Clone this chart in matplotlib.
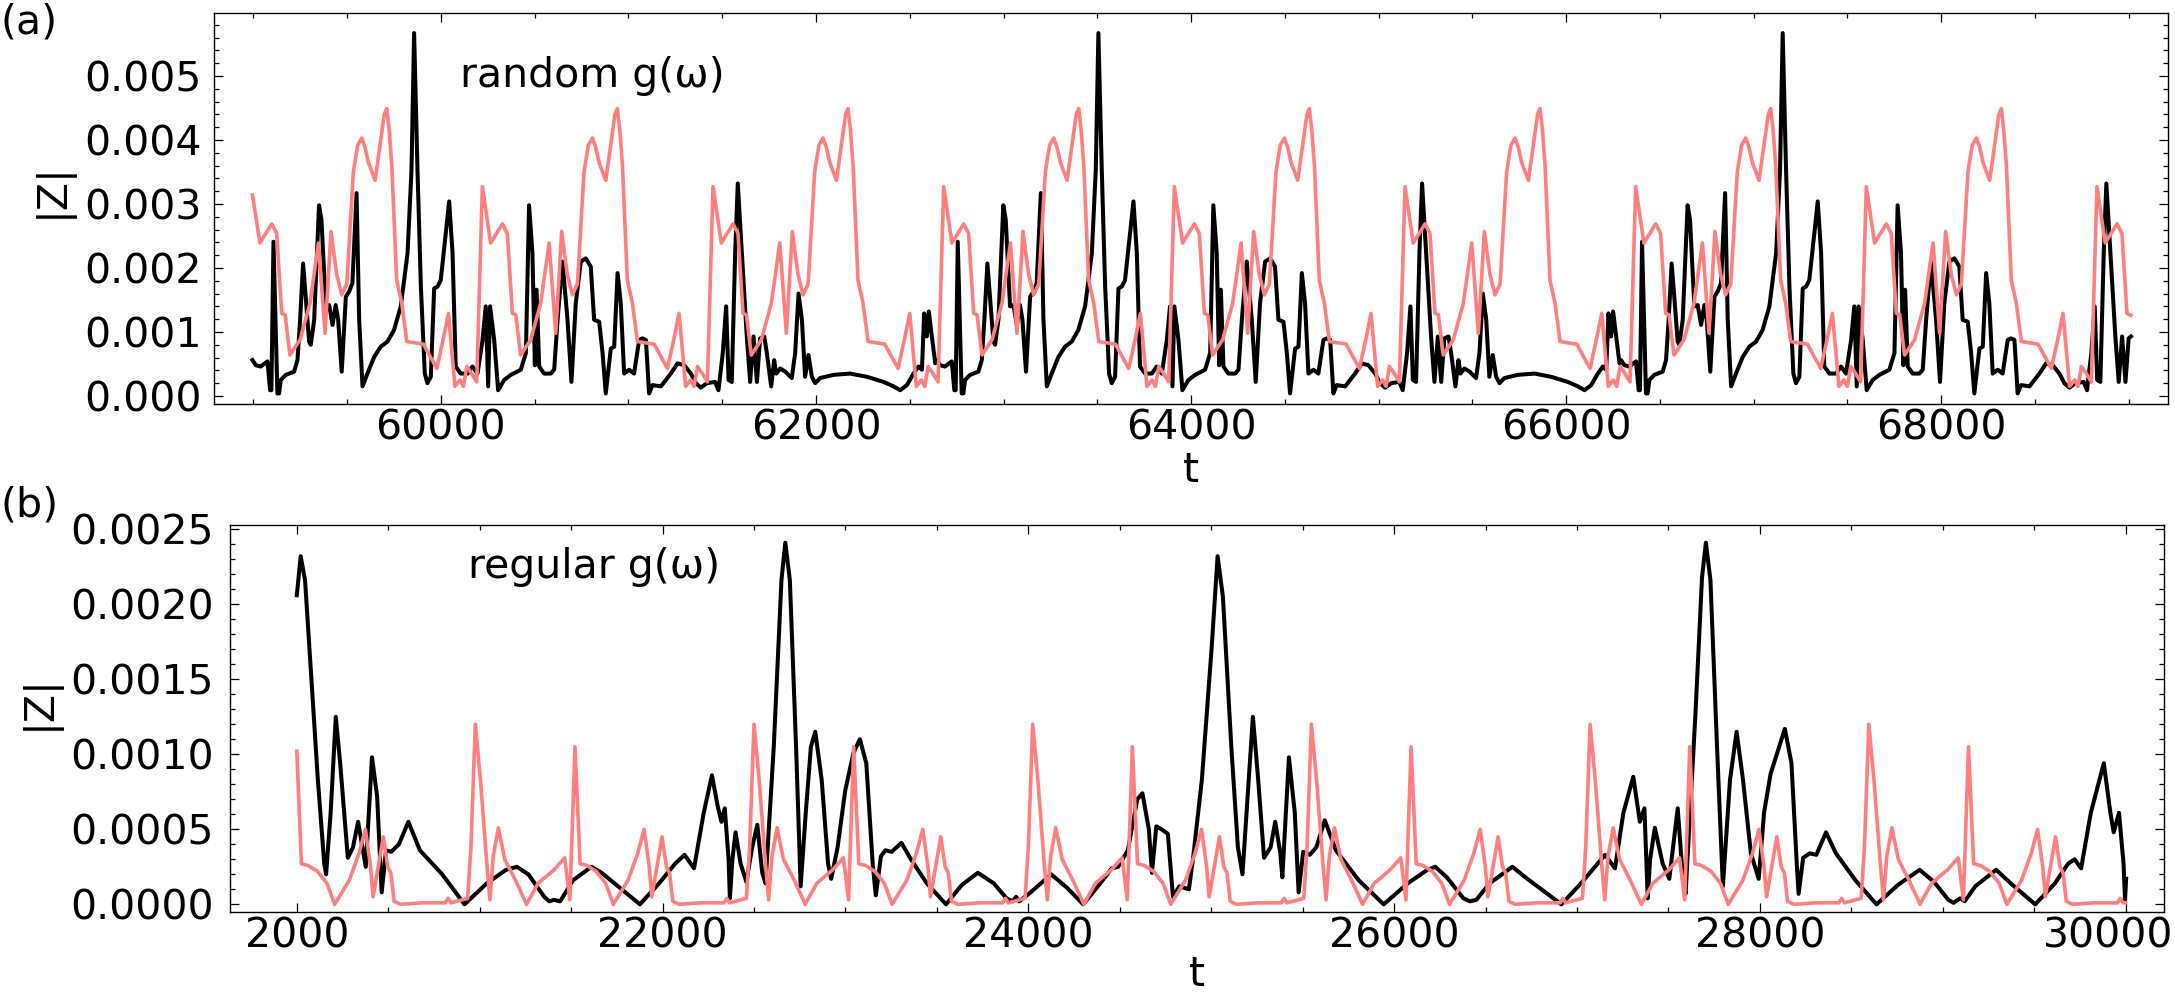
import matplotlib
matplotlib.use("Agg")
import matplotlib.pyplot as plt
import matplotlib.transforms as mtransforms
from matplotlib.ticker import FixedLocator, MultipleLocator, FormatStrFormatter

# all |Z| values below are in units of 1e-3

# ---- panel (a): random g(omega) ----
# black curve (three repeats of the same pattern)
black_a_t1 = [58995, 59013, 59039, 59075, 59089, 59096, 59107, 59128, 59137, 59146,
              59173, 59217, 59235, 59249, 59265, 59279, 59297, 59306, 59324, 59350,
              59363, 59386, 59404, 59422, 59439, 59452, 59471, 59493, 59510, 59528,
              59550, 59564, 59582, 59608, 59644, 59679, 59715, 59750, 59786, 59822,
              59843, 59857, 59875, 59893, 59914, 59928, 59946, 59964, 59982, 59999,
              60026, 60044, 60062, 60079, 60106, 60142, 60168, 60195, 60222, 60239,
              60252, 60262, 60284, 60305, 60337, 60373, 60426, 60453, 60470, 60488,
              60501, 60510, 60524, 60550, 60586, 60604, 60622, 60648, 60675, 60696,
              60719, 60746, 60773, 60799, 60817, 60844, 60862, 60879, 60906, 60924,
              60942, 60959, 60977, 61004, 61030, 61057, 61075, 61093, 61110, 61128,
              61173, 61226, 61262, 61297, 61333, 61359, 61386, 61418, 61462, 61480,
              61503, 61521, 61534, 61551, 61569, 61583, 61605, 61631, 61649, 61667,
              61685, 61702, 61724, 61738, 61761, 61777, 61788, 61809, 61836, 61871,
              61889, 61907, 61925, 61942, 61960, 61978, 61996, 62022, 62094, 62182,
              62271, 62360, 62414, 62449, 62485, 62520, 62547, 62565, 62577, 62591,
              62602, 62618, 62636]
black_a_v1 = [0.56, 0.48, 0.46, 0.54, 0.09, 0.09, 2.41, 0.04, 0.04, 0.25,
              0.33, 0.38, 0.56, 1.19, 2.07, 1.55, 0.85, 0.80, 1.19, 2.98,
              2.75, 1.40, 1.42, 1.11, 1.42, 1.19, 0.38, 1.55, 1.63, 1.76,
              3.17, 1.19, 0.15, 0.35, 0.61, 0.77, 0.85, 1.03, 1.40, 2.23,
              3.53, 5.67, 3.53, 1.71, 0.35, 0.20, 0.30, 1.68, 1.71, 1.81,
              2.54, 3.04, 2.23, 0.46, 0.35, 0.35, 0.46, 0.35, 0.875, 1.40,
              0.15, 1.40, 0.875, 0.09, 0.25, 0.33, 0.41, 0.67, 2.98, 2.23,
              0.48, 1.66, 0.46, 0.35, 0.35, 0.41, 1.19, 2.10, 1.19, 0.22,
              1.45, 2.10, 2.15, 2.02, 1.19, 1.16, 0.67, 0.04, 0.74, 0.77,
              1.92, 1.45, 0.35, 0.41, 0.35, 0.875, 0.90, 0.875, 0.04, 0.17,
              0.15, 0.35, 0.51, 0.48, 0.35, 0.20, 0.13, 0.20, 0.22, 0.09,
              0.67, 1.40, 0.25, 0.22, 2.23, 3.32, 2.23, 0.93, 0.22, 0.93,
              0.22, 0.90, 0.93, 0.67, 0.15, 0.56, 0.35, 0.43, 0.38, 0.28,
              0.67, 1.60, 1.19, 0.30, 0.64, 0.30, 0.20, 0.28, 0.33, 0.35,
              0.30, 0.22, 0.15, 0.09, 0.17, 0.35, 0.46, 0.41, 1.29, 0.93,
              1.32, 0.93, 0.51]
black_a_t2 = [62644, 62662, 62688, 62724, 62738, 62745, 62756, 62777, 62786, 62795,
              62822, 62866, 62884, 62898, 62914, 62928, 62946, 62955, 62973, 62999,
              63012, 63035, 63053, 63071, 63088, 63101, 63120, 63142, 63159, 63177,
              63199, 63213, 63231, 63257, 63293, 63328, 63364, 63399, 63435, 63471,
              63492, 63506, 63524, 63542, 63563, 63577, 63595, 63613, 63631, 63648,
              63675, 63693, 63711, 63728, 63755, 63791, 63817, 63844, 63871, 63888,
              63901, 63911, 63933, 63954, 63986, 64022, 64075, 64102, 64119, 64137,
              64150, 64159, 64173, 64199, 64235, 64253, 64271, 64297, 64324, 64345,
              64368, 64395, 64422, 64448, 64466, 64493, 64511, 64528, 64555, 64573,
              64591, 64608, 64626, 64653, 64679, 64706, 64724, 64742, 64759, 64777,
              64822, 64875, 64911, 64946, 64982, 65008, 65035, 65067, 65111, 65129,
              65152, 65170, 65183, 65200, 65218, 65232, 65254, 65280, 65298, 65316,
              65334, 65351, 65373, 65387, 65410, 65426, 65437, 65458, 65485, 65520,
              65538, 65556, 65574, 65591, 65609, 65627, 65645, 65671, 65743, 65831,
              65920, 66009, 66063, 66098, 66134, 66169, 66196, 66214, 66226, 66240,
              66251, 66267, 66285]
black_a_v2 = [0.56, 0.48, 0.46, 0.54, 0.09, 0.09, 2.41, 0.04, 0.04, 0.25,
              0.33, 0.38, 0.56, 1.19, 2.07, 1.55, 0.85, 0.80, 1.19, 2.98,
              2.75, 1.40, 1.42, 1.11, 1.42, 1.19, 0.38, 1.55, 1.63, 1.76,
              3.17, 1.19, 0.15, 0.35, 0.61, 0.77, 0.85, 1.03, 1.40, 2.23,
              3.53, 5.67, 3.53, 1.71, 0.35, 0.20, 0.30, 1.68, 1.71, 1.81,
              2.54, 3.04, 2.23, 0.46, 0.35, 0.35, 0.46, 0.35, 0.875, 1.40,
              0.15, 1.40, 0.875, 0.09, 0.25, 0.33, 0.41, 0.67, 2.98, 2.23,
              0.48, 1.66, 0.46, 0.35, 0.35, 0.41, 1.19, 2.10, 1.19, 0.22,
              1.45, 2.10, 2.15, 2.02, 1.19, 1.16, 0.67, 0.04, 0.74, 0.77,
              1.92, 1.45, 0.35, 0.41, 0.35, 0.875, 0.90, 0.875, 0.04, 0.17,
              0.15, 0.35, 0.51, 0.48, 0.35, 0.20, 0.13, 0.20, 0.22, 0.09,
              0.67, 1.40, 0.25, 0.22, 2.23, 3.32, 2.23, 0.93, 0.22, 0.93,
              0.22, 0.90, 0.93, 0.67, 0.15, 0.56, 0.35, 0.43, 0.38, 0.28,
              0.67, 1.60, 1.19, 0.30, 0.64, 0.30, 0.20, 0.28, 0.33, 0.35,
              0.30, 0.22, 0.15, 0.09, 0.17, 0.35, 0.46, 0.41, 1.29, 0.93,
              1.32, 0.93, 0.51]
black_a_t3 = [66293, 66311, 66337, 66373, 66387, 66394, 66405, 66426, 66435, 66444,
              66471, 66515, 66533, 66547, 66563, 66577, 66595, 66604, 66622, 66648,
              66661, 66684, 66702, 66720, 66737, 66750, 66769, 66791, 66808, 66826,
              66848, 66862, 66880, 66906, 66942, 66977, 67013, 67048, 67084, 67120,
              67141, 67155, 67173, 67191, 67212, 67226, 67244, 67262, 67280, 67297,
              67324, 67342, 67360, 67377, 67404, 67440, 67466, 67493, 67520, 67537,
              67550, 67560, 67582, 67603, 67635, 67671, 67724, 67751, 67768, 67786,
              67799, 67808, 67822, 67848, 67884, 67902, 67920, 67946, 67973, 67994,
              68017, 68044, 68071, 68097, 68115, 68142, 68160, 68177, 68204, 68222,
              68240, 68257, 68275, 68302, 68328, 68355, 68373, 68391, 68408, 68426,
              68471, 68524, 68560, 68595, 68631, 68657, 68684, 68716, 68760, 68778,
              68801, 68819, 68832, 68849, 68867, 68881, 68903, 68929, 68947, 68965,
              68983, 69000, 69012]
black_a_v3 = [0.56, 0.48, 0.46, 0.54, 0.09, 0.09, 2.41, 0.04, 0.04, 0.25,
              0.33, 0.38, 0.56, 1.19, 2.07, 1.55, 0.85, 0.80, 1.19, 2.98,
              2.75, 1.40, 1.42, 1.11, 1.42, 1.19, 0.38, 1.55, 1.63, 1.76,
              3.17, 1.19, 0.15, 0.35, 0.61, 0.77, 0.85, 1.03, 1.40, 2.23,
              3.53, 5.67, 3.53, 1.71, 0.35, 0.20, 0.30, 1.68, 1.71, 1.81,
              2.54, 3.04, 2.23, 0.46, 0.35, 0.35, 0.46, 0.35, 0.875, 1.40,
              0.15, 1.40, 0.875, 0.09, 0.25, 0.33, 0.41, 0.67, 2.98, 2.23,
              0.48, 1.66, 0.46, 0.35, 0.35, 0.41, 1.19, 2.10, 1.19, 0.22,
              1.45, 2.10, 2.15, 2.02, 1.19, 1.16, 0.67, 0.04, 0.74, 0.77,
              1.92, 1.45, 0.35, 0.41, 0.35, 0.875, 0.90, 0.875, 0.04, 0.17,
              0.15, 0.35, 0.51, 0.48, 0.35, 0.20, 0.13, 0.20, 0.22, 0.09,
              0.67, 1.40, 0.25, 0.22, 2.23, 3.32, 2.23, 0.93, 0.22, 0.93,
              0.22, 0.90, 0.93]

# pink curve of panel (a)
pink_a_t = [58995, 59035, 59098, 59124, 59151, 59169, 59195, 59249, 59302, 59347,
            59382, 59414, 59444, 59471, 59498, 59533, 59556, 59578, 59596, 59613,
            59649, 59684, 59698, 59711, 59724, 59738, 59764, 59791, 59818, 59907,
            59942, 59978, 60013, 60040, 60058, 60075, 60102, 60120, 60138, 60164,
            60191,
            60221, 60265, 60328, 60354, 60381, 60399, 60425, 60479, 60532, 60577,
            60612, 60644, 60674, 60701, 60728, 60763, 60786, 60808, 60826, 60843,
            60879, 60914, 60928, 60941, 60954, 60968, 60994, 61021, 61048, 61137,
            61172, 61208, 61243, 61270, 61288, 61305, 61332, 61350, 61368, 61394,
            61421,
            61451, 61495, 61558, 61584, 61611, 61629, 61655, 61709, 61762, 61807,
            61842, 61874, 61904, 61931, 61958, 61993, 62016, 62038, 62056, 62073,
            62109, 62144, 62158, 62171, 62184, 62198, 62224, 62251, 62278, 62367,
            62402, 62438, 62473, 62500, 62518, 62535, 62562, 62580, 62598, 62624,
            62651,
            62681, 62725, 62788, 62814, 62841, 62859, 62885, 62939, 62992, 63037,
            63072, 63104, 63134, 63161, 63188, 63223, 63246, 63268, 63286, 63303,
            63339, 63374, 63388, 63401, 63414, 63428, 63454, 63481, 63508, 63597,
            63632, 63668, 63703, 63730, 63748, 63765, 63792, 63810, 63828, 63854,
            63881,
            63911, 63955, 64018, 64044, 64071, 64089, 64115, 64169, 64222, 64267,
            64302, 64334, 64364, 64391, 64418, 64453, 64476, 64498, 64516, 64533,
            64569, 64604, 64618, 64631, 64644, 64658, 64684, 64711, 64738, 64827,
            64862, 64898, 64933, 64960, 64978, 64995, 65022, 65040, 65058, 65084,
            65111,
            65141, 65185, 65248, 65274, 65301, 65319, 65345, 65399, 65452, 65497,
            65532, 65564, 65594, 65621, 65648, 65683, 65706, 65728, 65746, 65763,
            65799, 65834, 65848, 65861, 65874, 65888, 65914, 65941, 65968, 66057,
            66092, 66128, 66163, 66190, 66208, 66225, 66252, 66270, 66288, 66314,
            66341,
            66371, 66415, 66478, 66504, 66531, 66549, 66575, 66629, 66682, 66727,
            66762, 66794, 66824, 66851, 66878, 66913, 66936, 66958, 66976, 66993,
            67029, 67064, 67078, 67091, 67104, 67118, 67144, 67171, 67198, 67287,
            67322, 67358, 67393, 67420, 67438, 67455, 67482, 67500, 67518, 67544,
            67571,
            67601, 67645, 67708, 67734, 67761, 67779, 67805, 67859, 67912, 67957,
            67992, 68024, 68054, 68081, 68108, 68143, 68166, 68188, 68206, 68223,
            68259, 68294, 68308, 68321, 68334, 68348, 68374, 68401, 68428, 68517,
            68552, 68588, 68623, 68650, 68668, 68685, 68712, 68730, 68748, 68774,
            68801,
            68831, 68875, 68938, 68964, 68991, 69012]
pink_a_v = [3.14, 2.39, 2.69, 2.54, 1.29, 1.27, 0.64, 0.88, 1.45, 2.39,
            0.98, 2.57, 1.90, 1.58, 1.75, 3.50, 3.92, 4.03, 3.88, 3.65,
            3.37, 4.10, 4.40, 4.49, 4.15, 3.60, 1.81, 1.45, 0.85, 0.81,
            0.62, 0.43, 0.90, 1.29, 0.70, 0.15, 0.25, 0.15, 0.46, 0.35,
            0.22,
            3.27, 2.39, 2.69, 2.54, 1.29, 1.27, 0.64, 0.88, 1.45, 2.39,
            0.98, 2.57, 1.90, 1.58, 1.75, 3.50, 3.92, 4.03, 3.88, 3.65,
            3.37, 4.10, 4.40, 4.49, 4.15, 3.60, 1.81, 1.45, 0.85, 0.81,
            0.62, 0.43, 0.90, 1.29, 0.70, 0.15, 0.25, 0.15, 0.46, 0.35,
            0.22,
            3.27, 2.39, 2.69, 2.54, 1.29, 1.27, 0.64, 0.88, 1.45, 2.39,
            0.98, 2.57, 1.90, 1.58, 1.75, 3.50, 3.92, 4.03, 3.88, 3.65,
            3.37, 4.10, 4.40, 4.49, 4.15, 3.60, 1.81, 1.45, 0.85, 0.81,
            0.62, 0.43, 0.90, 1.29, 0.70, 0.15, 0.25, 0.15, 0.46, 0.35,
            0.22,
            3.27, 2.39, 2.69, 2.54, 1.29, 1.27, 0.64, 0.88, 1.45, 2.39,
            0.98, 2.57, 1.90, 1.58, 1.75, 3.50, 3.92, 4.03, 3.88, 3.65,
            3.37, 4.10, 4.40, 4.49, 4.15, 3.60, 1.81, 1.45, 0.85, 0.81,
            0.62, 0.43, 0.90, 1.29, 0.70, 0.15, 0.25, 0.15, 0.46, 0.35,
            0.22,
            3.27, 2.39, 2.69, 2.54, 1.29, 1.27, 0.64, 0.88, 1.45, 2.39,
            0.98, 2.57, 1.90, 1.58, 1.75, 3.50, 3.92, 4.03, 3.88, 3.65,
            3.37, 4.10, 4.40, 4.49, 4.15, 3.60, 1.81, 1.45, 0.85, 0.81,
            0.62, 0.43, 0.90, 1.29, 0.70, 0.15, 0.25, 0.15, 0.46, 0.35,
            0.22,
            3.27, 2.39, 2.69, 2.54, 1.29, 1.27, 0.64, 0.88, 1.45, 2.39,
            0.98, 2.57, 1.90, 1.58, 1.75, 3.50, 3.92, 4.03, 3.88, 3.65,
            3.37, 4.10, 4.40, 4.49, 4.15, 3.60, 1.81, 1.45, 0.85, 0.81,
            0.62, 0.43, 0.90, 1.29, 0.70, 0.15, 0.25, 0.15, 0.46, 0.35,
            0.22,
            3.27, 2.39, 2.69, 2.54, 1.29, 1.27, 0.64, 0.88, 1.45, 2.39,
            0.98, 2.57, 1.90, 1.58, 1.75, 3.50, 3.92, 4.03, 3.88, 3.65,
            3.37, 4.10, 4.40, 4.49, 4.15, 3.60, 1.81, 1.45, 0.85, 0.81,
            0.62, 0.43, 0.90, 1.29, 0.70, 0.15, 0.25, 0.15, 0.46, 0.35,
            0.22,
            3.27, 2.39, 2.69, 2.54, 1.29, 1.27, 0.64, 0.88, 1.45, 2.39,
            0.98, 2.57, 1.90, 1.58, 1.75, 3.50, 3.92, 4.03, 3.88, 3.65,
            3.37, 4.10, 4.40, 4.49, 4.15, 3.60, 1.81, 1.45, 0.85, 0.81,
            0.62, 0.43, 0.90, 1.29, 0.70, 0.15, 0.25, 0.15, 0.46, 0.35,
            0.22,
            3.27, 2.39, 2.69, 2.54, 1.29, 1.26]

# ---- panel (b): regular g(omega) ----
black_b_t = [20000, 20021, 20045, 20080, 20115, 20150, 20160, 20185, 20213, 20237,
             20279, 20307, 20335, 20359, 20377, 20411, 20439, 20464, 20488, 20516,
             20558, 20610, 20673, 20795, 20917, 21039, 21144, 21203, 21266, 21353,
             21380, 21405, 21440, 21510, 21611, 21667, 21876, 21981, 22068, 22120,
             22172, 22225, 22270, 22302, 22322, 22340, 22361, 22368, 22382, 22399,
             22427, 22458, 22490, 22518, 22545, 22563, 22608, 22650, 22671, 22696,
             22730, 22755, 22783, 22811, 22835, 22870, 22905, 22922, 22957, 22999,
             23044, 23079, 23114, 23149, 23166, 23194, 23218, 23253, 23306, 23358,
             23445, 23550, 23637, 23724, 23811, 23881, 23915, 23933, 23950, 24003,
             24125, 24212, 24300, 24387, 24456, 24491, 24544, 24596, 24624, 24659,
             24676, 24700, 24728, 24763, 24791, 24826, 24878, 24900, 24949, 25003,
             25035, 25064, 25110, 25146, 25171, 25199, 25228, 25257, 25289, 25325,
             25350, 25378, 25389, 25425, 25457, 25478, 25503, 25539, 25575, 25621,
             25682, 25807, 25943, 26075, 26182, 26225, 26289, 26379, 26415, 26450,
             26522, 26647, 26718, 26915, 27022, 27112, 27154, 27208, 27254, 27308,
             27344, 27369, 27387, 27400, 27426, 27469, 27505, 27551, 27580, 27594,
             27648, 27684, 27705, 27730, 27766, 27798, 27837, 27873, 27908, 27951,
             27994, 28023, 28059, 28137, 28173, 28202, 28212, 28237, 28273, 28309,
             28362, 28416, 28523, 28638, 28756, 28874, 28952, 29031, 29060, 29095,
             29120, 29178, 29292, 29381, 29506, 29614, 29685, 29721, 29757, 29810,
             29881, 29917, 29935, 29964, 29989, 29997, 30003]
black_b_v = [2.06, 2.32, 2.16, 1.50, 0.83, 0.27, 0.20, 0.61, 1.25, 0.94,
             0.31, 0.38, 0.55, 0.38, 0.25, 0.98, 0.72, 0.08, 0.36, 0.35,
             0.40, 0.55, 0.36, 0.20, 0.00, 0.14, 0.23, 0.25, 0.20, 0.05,
             0.02, 0.03, 0.02, 0.16, 0.25, 0.21, 0.00, 0.14, 0.27, 0.33,
             0.24, 0.61, 0.86, 0.65, 0.55, 0.64, 0.30, 0.04, 0.30, 0.48,
             0.27, 0.15, 0.38, 0.53, 0.21, 0.14, 1.05, 2.16, 2.41, 2.16,
             1.05, 0.12, 0.61, 1.05, 1.15, 0.83, 0.27, 0.17, 0.38, 0.76,
             1.01, 1.10, 0.94, 0.27, 0.06, 0.32, 0.36, 0.35, 0.41, 0.30,
             0.14, 0.00, 0.13, 0.21, 0.14, 0.04, 0.02, 0.05, 0.02, 0.07,
             0.20, 0.11, 0.00, 0.13, 0.24, 0.25, 0.36, 0.70, 0.74, 0.50,
             0.21, 0.52, 0.50, 0.47, 0.05, 0.12, 0.10, 0.30, 0.83, 1.72,
             2.32, 2.05, 1.05, 0.38, 0.20, 0.72, 1.25, 0.83, 0.31, 0.38,
             0.55, 0.34, 0.18, 0.98, 0.61, 0.08, 0.35, 0.33, 0.38, 0.56,
             0.36, 0.16, 0.00, 0.14, 0.23, 0.25, 0.18, 0.04, 0.02, 0.03,
             0.14, 0.25, 0.18, 0.00, 0.14, 0.27, 0.33, 0.24, 0.61, 0.85,
             0.55, 0.64, 0.04, 0.30, 0.51, 0.27, 0.17, 0.64, 0.16, 0.07,
             1.27, 2.18, 2.41, 2.16, 1.05, 0.12, 0.83, 1.15, 0.83, 0.34,
             0.17, 0.61, 0.87, 1.17, 0.94, 0.27, 0.07, 0.31, 0.34, 0.33,
             0.48, 0.34, 0.16, 0.00, 0.13, 0.23, 0.15, 0.03, 0.01, 0.04,
             0.02, 0.12, 0.23, 0.13, 0.00, 0.14, 0.27, 0.30, 0.24, 0.61,
             0.94, 0.61, 0.48, 0.61, 0.27, 0.03, 0.17]

pink_b_t = [20000, 20025, 20060, 20113, 20165, 20207, 20287, 20340, 20375, 20403,
            20417, 20473, 20497, 20514, 20532, 20567, 20682, 20812, 20827, 20842,
            20934, 20952,
            20976, 21004, 21039, 21056, 21074, 21102, 21137, 21196, 21256, 21319,
            21406, 21465, 21493, 21521, 21549, 21584, 21637, 21689, 21731, 21811,
            21864, 21899, 21927, 21941, 21997, 22021, 22038, 22056, 22091, 22206,
            22336, 22351, 22366, 22458, 22476,
            22500, 22528, 22563, 22580, 22598, 22626, 22661, 22720, 22780, 22843,
            22930, 22989, 23017, 23045, 23073, 23108, 23161, 23213, 23255, 23335,
            23388, 23423, 23451, 23465, 23521, 23545, 23562, 23580, 23615, 23730,
            23860, 23875, 23890, 23982, 24000,
            24024, 24052, 24087, 24104, 24122, 24150, 24185, 24244, 24304, 24367,
            24454, 24513, 24541, 24569, 24597, 24632, 24685, 24737, 24779, 24859,
            24912, 24947, 24975, 24989, 25045, 25069, 25086, 25104, 25139, 25254,
            25384, 25399, 25414, 25506, 25524,
            25548, 25576, 25611, 25628, 25646, 25674, 25709, 25768, 25828, 25891,
            25978, 26037, 26065, 26093, 26121, 26156, 26209, 26261, 26303, 26383,
            26436, 26471, 26499, 26513, 26569, 26593, 26610, 26628, 26663, 26778,
            26908, 26923, 26938, 27030, 27048,
            27072, 27100, 27135, 27152, 27170, 27198, 27233, 27292, 27352, 27415,
            27502, 27561, 27589, 27617, 27645, 27680, 27733, 27785, 27827, 27907,
            27960, 27995, 28023, 28037, 28093, 28117, 28134, 28152, 28187, 28302,
            28432, 28447, 28462, 28554, 28572,
            28596, 28624, 28659, 28676, 28694, 28722, 28757, 28816, 28876, 28939,
            29026, 29085, 29113, 29141, 29169, 29204, 29257, 29309, 29351, 29431,
            29484, 29519, 29547, 29561, 29617, 29641, 29658, 29676, 29711, 29826,
            29956, 29971, 29986, 30000]
pink_b_v = [1.02, 0.27, 0.26, 0.22, 0.14, 0.00, 0.16, 0.34, 0.50, 0.25,
            0.05, 0.45, 0.25, 0.21, 0.02, 0.00, 0.01, 0.01, 0.04, 0.01,
            0.04, 0.38,
            1.20, 0.83, 0.27, 0.03, 0.32, 0.51, 0.30, 0.16, 0.00, 0.14,
            0.23, 0.31, 0.03, 1.05, 0.27, 0.26, 0.22, 0.14, 0.00, 0.16,
            0.34, 0.50, 0.25, 0.05, 0.45, 0.25, 0.21, 0.02, 0.00, 0.01,
            0.01, 0.04, 0.01, 0.04, 0.38,
            1.20, 0.83, 0.27, 0.03, 0.32, 0.51, 0.30, 0.16, 0.00, 0.14,
            0.23, 0.31, 0.03, 1.05, 0.27, 0.26, 0.22, 0.14, 0.00, 0.16,
            0.34, 0.50, 0.25, 0.05, 0.45, 0.25, 0.21, 0.02, 0.00, 0.01,
            0.01, 0.04, 0.01, 0.04, 0.38,
            1.20, 0.83, 0.27, 0.03, 0.32, 0.51, 0.30, 0.16, 0.00, 0.14,
            0.23, 0.31, 0.03, 1.05, 0.27, 0.26, 0.22, 0.14, 0.00, 0.16,
            0.34, 0.50, 0.25, 0.05, 0.45, 0.25, 0.21, 0.02, 0.00, 0.01,
            0.01, 0.04, 0.01, 0.04, 0.38,
            1.20, 0.83, 0.27, 0.03, 0.32, 0.51, 0.30, 0.16, 0.00, 0.14,
            0.23, 0.31, 0.03, 1.05, 0.27, 0.26, 0.22, 0.14, 0.00, 0.16,
            0.34, 0.50, 0.25, 0.05, 0.45, 0.25, 0.21, 0.02, 0.00, 0.01,
            0.01, 0.04, 0.01, 0.04, 0.38,
            1.20, 0.83, 0.27, 0.03, 0.32, 0.51, 0.30, 0.16, 0.00, 0.14,
            0.23, 0.31, 0.03, 1.05, 0.27, 0.26, 0.22, 0.14, 0.00, 0.16,
            0.34, 0.50, 0.25, 0.05, 0.45, 0.25, 0.21, 0.02, 0.00, 0.01,
            0.01, 0.04, 0.01, 0.04, 0.38,
            1.20, 0.83, 0.27, 0.03, 0.32, 0.51, 0.30, 0.16, 0.00, 0.14,
            0.23, 0.31, 0.03, 1.05, 0.27, 0.26, 0.22, 0.14, 0.00, 0.16,
            0.34, 0.50, 0.25, 0.05, 0.45, 0.25, 0.21, 0.02, 0.00, 0.01,
            0.01, 0.04, 0.01, 0.01]

xticks_a = [60000, 62000, 64000, 66000, 68000]
xticks_b = [20000, 22000, 24000, 26000, 28000, 30000]
xticklabels_b = ['2000', '22000', '24000', '26000', '28000', '30000']

PINK = '#ff7f7f'
FS = 29.5
plt.rcParams['font.family'] = 'DejaVu Sans'

fig = plt.figure(figsize=(21.75, 9.96), dpi=100)
ax1 = fig.add_axes([0.0984, 0.5944, 0.8984, 0.3923])
ax2 = fig.add_axes([0.1057, 0.0843, 0.8894, 0.3886])

s = 1e-3
ax1.plot(black_a_t1 + black_a_t2 + black_a_t3,
         [v * s for v in black_a_v1 + black_a_v2 + black_a_v3],
         color='black', lw=2.9, solid_joinstyle='round')
ax1.plot(pink_a_t, [v * s for v in pink_a_v], color=PINK, lw=2.6,
         solid_joinstyle='round')
ax2.plot(black_b_t, [v * s for v in black_b_v], color='black', lw=2.9,
         solid_joinstyle='round')
ax2.plot(pink_b_t, [v * s for v in pink_b_v], color=PINK, lw=2.6,
         solid_joinstyle='round')

ax1.set_xlim(58790, 69210)
ax1.set_ylim(-0.000125, 0.00598)
ax2.set_xlim(19634, 30212)
ax2.set_ylim(-0.0000513, 0.002528)

ax1.xaxis.set_major_locator(FixedLocator(xticks_a))
ax1.xaxis.set_minor_locator(MultipleLocator(500))
ax1.yaxis.set_major_locator(MultipleLocator(0.001))
ax1.yaxis.set_minor_locator(MultipleLocator(0.0002))
ax1.yaxis.set_major_formatter(FormatStrFormatter('%.3f'))

ax2.xaxis.set_major_locator(FixedLocator(xticks_b))
ax2.set_xticklabels(xticklabels_b)
ax2.xaxis.set_minor_locator(MultipleLocator(500))
ax2.yaxis.set_major_locator(MultipleLocator(0.0005))
ax2.yaxis.set_minor_locator(MultipleLocator(0.0001))
ax2.yaxis.set_major_formatter(FormatStrFormatter('%.4f'))

for ax, ypad in ((ax1, 8.8), (ax2, 11.5)):
    ax.tick_params(which='both', direction='in', top=True, right=True, width=0.9)
    ax.tick_params(which='major', length=6.2, labelsize=FS)
    ax.tick_params(which='minor', length=3.4)
    ax.tick_params(axis='x', pad=3)
    ax.tick_params(axis='y', pad=ypad)
    for sp in ax.spines.values():
        sp.set_linewidth(1.0)
    ax.set_ylabel('|Z|', fontsize=FS)
    ax.set_xlabel('t', fontsize=FS)

ax1.yaxis.set_label_coords(-0.0722, 0.548)
ax2.yaxis.set_label_coords(-0.0879, 0.543)
ax1.xaxis.set_label_coords(0.5, -0.12)
ax2.xaxis.set_label_coords(0.5, -0.112)

# last tick label of panel (b) sits a bit to the left so it stays inside the figure
last = ax2.get_xticklabels()[-1]
last.set_transform(last.get_transform()
                   + mtransforms.ScaledTranslation(-0.17, 0, fig.dpi_scale_trans))

ax1.text(0.1259, 0.812, 'random g(ω)', transform=ax1.transAxes, fontsize=FS, va='baseline')
ax2.text(0.123, 0.863, 'regular g(ω)', transform=ax2.transAxes, fontsize=FS, va='baseline')

fig.text(0.0, 0.997, '(a)', fontsize=FS, va='top', ha='left')
fig.text(0.0, 0.513, '(b)', fontsize=FS, va='top', ha='left')

fig.savefig('out.png', dpi=100)
